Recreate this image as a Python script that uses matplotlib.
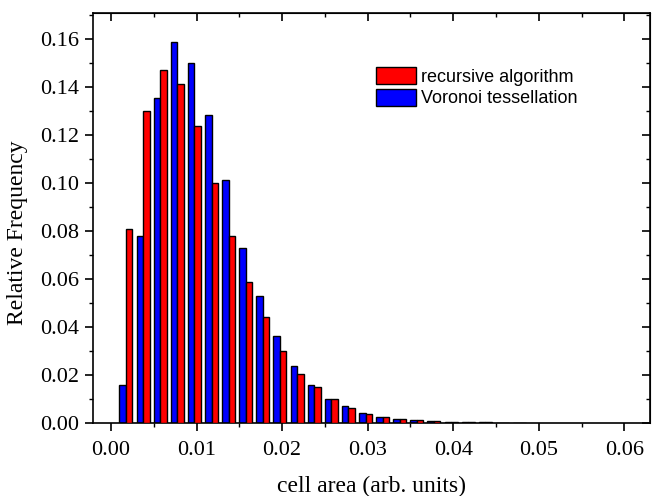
import numpy as np
import matplotlib
matplotlib.use("Agg")
import matplotlib.pyplot as plt
from matplotlib.ticker import MultipleLocator

# Data
bin_centers = 0.00175 + 0.002 * np.arange(24)
voronoi = [0.0158, 0.0781, 0.1353, 0.1588, 0.1499, 0.1282, 0.1014, 0.0728, 0.0531, 0.0361,
           0.0236, 0.0158, 0.0099, 0.0071, 0.0040, 0.0026, 0.0016, 0.0011, 0.0008, 0.0005,
           0.0003, 0.0003, 0.0001, 0.0001]
recursive = [0.0810, 0.1299, 0.1472, 0.1413, 0.1239, 0.0999, 0.0780, 0.0588, 0.0443, 0.0302,
             0.0204, 0.0149, 0.0099, 0.0064, 0.0037, 0.0025, 0.0016, 0.0012, 0.0008, 0.0005,
             0.0003, 0.0003, 0.0002, 0.0001]
labels = ["recursive algorithm", "Voronoi tessellation"]
xticks = [0.00, 0.01, 0.02, 0.03, 0.04, 0.05, 0.06]
yticks = [0.00, 0.02, 0.04, 0.06, 0.08, 0.10, 0.12, 0.14, 0.16]

serif = ["Liberation Serif", "DejaVu Serif"]
sans = ["Liberation Sans", "DejaVu Sans"]

fig = plt.figure(figsize=(6.52, 4.96), dpi=100)
ax = fig.add_axes([93/652, 73/496, 557/652, 410/496])

w = 0.00076
bb = ax.bar(bin_centers - w/2, voronoi, width=w, color="#0000ff", edgecolor="black", linewidth=1.0, label=labels[1], zorder=2)
br = ax.bar(bin_centers + w/2, recursive, width=w, color="#ff0000", edgecolor="black", linewidth=1.0, label=labels[0], zorder=3)

ax.set_xlim(-0.0021, 0.0630)
ax.set_ylim(0, 0.1708)
ax.set_xticks(xticks)
ax.set_xticklabels([f"{v:.2f}" for v in xticks])
ax.set_yticks(yticks)
ax.set_yticklabels([f"{v:.2f}" for v in yticks])
ax.xaxis.set_minor_locator(MultipleLocator(0.005))
ax.yaxis.set_minor_locator(MultipleLocator(0.01))

ax.tick_params(axis="both", which="major", direction="out", length=6, width=1.2, labelsize=16)
ax.tick_params(axis="x", which="major", pad=7)
ax.tick_params(axis="y", which="major", pad=4)
ax.tick_params(axis="both", which="minor", direction="out", length=3, width=1.0)
for lab in ax.get_xticklabels() + ax.get_yticklabels():
    lab.set_family(serif)

# inward ticks on top and right via secondary axes
axt = ax.secondary_xaxis("top")
axt.set_xticks(xticks)
axt.xaxis.set_minor_locator(MultipleLocator(0.005))
axt.tick_params(which="major", direction="in", length=6, width=1.2, labeltop=False)
axt.tick_params(which="minor", direction="in", length=3, width=1.0)
axr = ax.secondary_yaxis("right")
axr.set_yticks(yticks)
axr.yaxis.set_minor_locator(MultipleLocator(0.01))
axr.tick_params(which="major", direction="in", length=6, width=1.2, labelright=False)
axr.tick_params(which="minor", direction="in", length=3, width=1.0)

for sp in ax.spines.values():
    sp.set_linewidth(1.2)

ax.set_xlabel("cell area (arb. units)", family=serif, fontsize=17, va="center")
ax.xaxis.set_label_coords(0.5, (423 - 486) / 410)
ax.set_ylabel("Relative Frequency", family=serif, fontsize=17, va="center")
ax.yaxis.set_label_coords((18 - 93) / 557, (423 - 233) / 410)

leg = ax.legend(handles=[br, bb], labels=labels, loc="upper left",
                bbox_to_anchor=(0.508, 0.868), frameon=False,
                prop={"family": sans, "size": 13},
                handlelength=2.2, handleheight=1.1, handletextpad=0.3,
                labelspacing=0.15, borderpad=0, borderaxespad=0)

fig.savefig("out.png", dpi=100)
